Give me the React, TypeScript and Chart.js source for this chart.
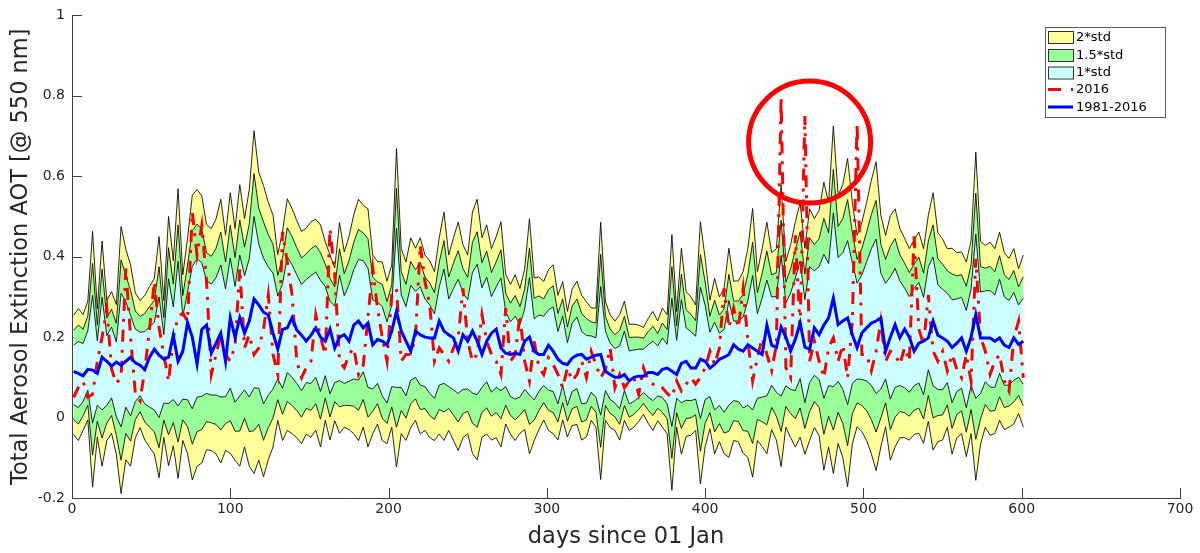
import { useEffect, useRef } from 'react';
import { Chart, registerables } from 'chart.js';

Chart.register(...registerables);

// x categories: day numbers (every 3rd day, starting at day 1)
const DAY_START = 1;
const DAY_STEP = 3;

// 1981-2016 climatological mean AOT (blue line)
const meanAOT = [
  0.115, 0.11, 0.104, 0.12, 0.118, 0.11, 0.15, 0.14, 0.128, 0.138,
  0.13, 0.14, 0.15, 0.136, 0.13, 0.12, 0.15, 0.17, 0.155, 0.145,
  0.15, 0.205, 0.14, 0.165, 0.236, 0.2, 0.133, 0.219, 0.23, 0.16,
  0.185, 0.21, 0.14, 0.248, 0.2, 0.248, 0.21, 0.24, 0.295, 0.28,
  0.262, 0.255, 0.21, 0.17, 0.219, 0.223, 0.248, 0.218, 0.205, 0.19,
  0.205, 0.223, 0.2, 0.19, 0.22, 0.173, 0.2, 0.206, 0.19, 0.23,
  0.24, 0.223, 0.235, 0.181, 0.194, 0.19, 0.181, 0.215, 0.264, 0.215,
  0.19, 0.165, 0.215, 0.206, 0.2, 0.198, 0.198, 0.24, 0.215, 0.206,
  0.198, 0.165, 0.206, 0.19, 0.215, 0.19, 0.157, 0.19, 0.21, 0.22,
  0.173, 0.16, 0.157, 0.16, 0.157, 0.19, 0.2, 0.165, 0.157, 0.157,
  0.18, 0.165, 0.145, 0.135, 0.132, 0.148, 0.155, 0.157, 0.145, 0.15,
  0.155, 0.157, 0.115, 0.107, 0.1, 0.1, 0.107, 0.091, 0.1, 0.103,
  0.103, 0.112, 0.112, 0.107, 0.12, 0.123, 0.115, 0.107, 0.135, 0.14,
  0.123, 0.123, 0.145, 0.14, 0.123, 0.132, 0.145, 0.15, 0.157, 0.181,
  0.17, 0.165, 0.181, 0.173, 0.165, 0.157, 0.23, 0.18, 0.174, 0.225,
  0.2, 0.165, 0.195, 0.235, 0.175, 0.17, 0.223, 0.206, 0.23, 0.248,
  0.297, 0.231, 0.24, 0.248, 0.206, 0.174, 0.21, 0.223, 0.235, 0.24,
  0.248, 0.165, 0.2, 0.231, 0.198, 0.22, 0.2, 0.165, 0.185, 0.19,
  0.198, 0.24, 0.205, 0.198, 0.19, 0.174, 0.185, 0.198, 0.165, 0.2,
  0.256, 0.198, 0.198, 0.198, 0.19, 0.198, 0.18, 0.174, 0.198, 0.182,
  0.19,
];

// centre of the std envelopes
const bandCenter = [
  0.106, 0.107, 0.112, 0.142, 0.145, 0.111, 0.159, 0.117, 0.137, 0.095,
  0.143, 0.157, 0.129, 0.13, 0.133, 0.124, 0.126, 0.128, 0.15, 0.121,
  0.19, 0.16, 0.209, 0.149, 0.178, 0.199, 0.223, 0.219, 0.2, 0.194,
  0.202, 0.215, 0.186, 0.235, 0.182, 0.229, 0.211, 0.223, 0.287, 0.252,
  0.215, 0.215, 0.215, 0.199, 0.203, 0.256, 0.24, 0.22, 0.199, 0.215,
  0.219, 0.231, 0.203, 0.215, 0.174, 0.182, 0.223, 0.194, 0.21, 0.232,
  0.243, 0.252, 0.223, 0.182, 0.186, 0.165, 0.137, 0.178, 0.273, 0.19,
  0.165, 0.211, 0.207, 0.203, 0.186, 0.17, 0.153, 0.203, 0.227, 0.186,
  0.195, 0.202, 0.19, 0.182, 0.211, 0.219, 0.199, 0.219, 0.182, 0.2,
  0.207, 0.17, 0.145, 0.149, 0.141, 0.17, 0.202, 0.145, 0.16, 0.166,
  0.168, 0.17, 0.124, 0.166, 0.108, 0.15, 0.161, 0.124, 0.12, 0.133,
  0.124, 0.166, 0.141, 0.115, 0.104, 0.1, 0.141, 0.1, 0.104, 0.11,
  0.116, 0.116, 0.116, 0.116, 0.124, 0.108, 0.137, 0.12, 0.165, 0.133,
  0.128, 0.124, 0.161, 0.162, 0.132, 0.128, 0.12, 0.116, 0.161, 0.141,
  0.14, 0.137, 0.161, 0.186, 0.153, 0.174, 0.198, 0.19, 0.182, 0.228,
  0.182, 0.19, 0.207, 0.243, 0.165, 0.231, 0.235, 0.235, 0.227, 0.231,
  0.293, 0.244, 0.24, 0.236, 0.235, 0.215, 0.225, 0.239, 0.25, 0.252,
  0.215, 0.215, 0.198, 0.223, 0.21, 0.198, 0.182, 0.2, 0.211, 0.178,
  0.247, 0.239, 0.2, 0.194, 0.198, 0.165, 0.18, 0.186, 0.145, 0.2,
  0.252, 0.186, 0.202, 0.196, 0.19, 0.227, 0.19, 0.186, 0.202, 0.19,
  0.19,
];

// 1981-2016 standard deviation
const stdAOT = [
  0.074, 0.082, 0.072, 0.074, 0.159, 0.08, 0.14, 0.087, 0.088, 0.093,
  0.166, 0.131, 0.125, 0.09, 0.079, 0.09, 0.1, 0.109, 0.15, 0.085,
  0.155, 0.115, 0.18, 0.103, 0.134, 0.177, 0.172, 0.166, 0.14, 0.138,
  0.146, 0.164, 0.134, 0.162, 0.144, 0.175, 0.142, 0.172, 0.213, 0.179,
  0.181, 0.16, 0.144, 0.103, 0.13, 0.144, 0.14, 0.135, 0.132, 0.128,
  0.134, 0.131, 0.138, 0.111, 0.115, 0.095, 0.131, 0.109, 0.12, 0.136,
  0.15, 0.138, 0.148, 0.111, 0.101, 0.111, 0.101, 0.101, 0.198, 0.115,
  0.111, 0.118, 0.107, 0.122, 0.109, 0.11, 0.105, 0.122, 0.142, 0.109,
  0.126, 0.142, 0.12, 0.111, 0.15, 0.162, 0.124, 0.13, 0.119, 0.125,
  0.14, 0.093, 0.093, 0.103, 0.09, 0.1, 0.146, 0.101, 0.095, 0.086,
  0.1, 0.105, 0.09, 0.086, 0.078, 0.085, 0.089, 0.09, 0.084, 0.07,
  0.074, 0.16, 0.074, 0.07, 0.068, 0.078, 0.074, 0.066, 0.064, 0.06,
  0.054, 0.065, 0.074, 0.062, 0.074, 0.074, 0.159, 0.072, 0.128, 0.09,
  0.086, 0.078, 0.163, 0.117, 0.08, 0.109, 0.09, 0.103, 0.13, 0.099,
  0.1, 0.113, 0.13, 0.167, 0.105, 0.123, 0.144, 0.11, 0.119, 0.175,
  0.103, 0.12, 0.14, 0.146, 0.128, 0.144, 0.13, 0.14, 0.179, 0.152,
  0.216, 0.154, 0.17, 0.204, 0.15, 0.119, 0.13, 0.148, 0.17, 0.192,
  0.144, 0.119, 0.152, 0.148, 0.13, 0.124, 0.119, 0.121, 0.125, 0.121,
  0.128, 0.16, 0.13, 0.125, 0.111, 0.128, 0.115, 0.113, 0.121, 0.12,
  0.204, 0.126, 0.113, 0.12, 0.115, 0.117, 0.11, 0.105, 0.109, 0.09,
  0.107,
];

// 2016 AOT (red dash-dot line)
const aot2016 = [
  0.05, 0.075, 0.09, 0.05, 0.058, 0.14, 0.2, 0.272, 0.12, 0.085,
  0.1, 0.371, 0.2, 0.06, 0.042, 0.12, 0.22, 0.338, 0.223, 0.157,
  0.09, 0.198, 0.25, 0.26, 0.239, 0.511, 0.404, 0.478, 0.338, 0.107,
  0.157, 0.206, 0.157, 0.14, 0.18, 0.371, 0.173, 0.206, 0.157, 0.173,
  0.22, 0.305, 0.157, 0.107, 0.462, 0.387, 0.305, 0.14, 0.099, 0.124,
  0.14, 0.256, 0.2, 0.157, 0.47, 0.355, 0.14, 0.124, 0.157, 0.173,
  0.107, 0.13, 0.25, 0.371, 0.272, 0.2, 0.14, 0.305, 0.321, 0.14,
  0.157, 0.157, 0.2, 0.429, 0.338, 0.28, 0.14, 0.173, 0.157, 0.14,
  0.173, 0.2, 0.321, 0.19, 0.14, 0.157, 0.256, 0.19, 0.157, 0.14,
  0.107, 0.272, 0.14, 0.157, 0.256, 0.14, 0.091, 0.19, 0.124, 0.107,
  0.149, 0.132, 0.107, 0.074, 0.124, 0.091, 0.107, 0.14, 0.099, 0.165,
  0.132, 0.099, 0.12, 0.173, 0.074, 0.107, 0.074, 0.091, 0.099, 0.058,
  0.124, 0.091, 0.083, 0.083, 0.074, 0.06, 0.05, 0.091, 0.066, 0.083,
  0.099, 0.083, 0.1, 0.124, 0.165, 0.132, 0.173, 0.321, 0.223, 0.272,
  0.223, 0.321, 0.19, 0.091, 0.15, 0.198, 0.157, 0.116, 0.181, 0.799,
  0.124, 0.099, 0.453, 0.223, 0.75, 0.14, 0.19, 0.14, 0.099, 0.174,
  0.198, 0.14, 0.181, 0.099, 0.24, 0.733, 0.157, 0.157, 0.116, 0.165,
  0.24, 0.14, 0.165, 0.157, 0.132, 0.174, 0.14, 0.453, 0.22, 0.181,
  0.305, 0.165, 0.14, 0.165, 0.116, 0.157, 0.12, 0.099, 0.157, 0.091,
  0.395, 0.2, 0.165, 0.107, 0.14, 0.157, 0.091, 0.066, 0.198, 0.24,
  0.099,
];

const days = meanAOT.map((_, i) => DAY_START + DAY_STEP * i);

const xTickValues = [0, 100, 200, 300, 400, 500, 600, 700];
const yTickValues = [-0.2, 0, 0.2, 0.4, 0.6, 0.8, 1];
const bandMultipliers = [2, 1.5, 1];
const legendLabels = ['2*std', '1.5*std', '1*std', '2016', '1981-2016'];
const xTitle = 'days since 01 Jan';
const yTitle = 'Total Aerosol Extinction AOT [@ 550 nm]';
// highlighted region (annotation circle) in data units
const highlightDay = 466;
const highlightAOT = 0.685;

const FONT = '"DejaVu Sans", "Liberation Sans", sans-serif';
const YELLOW = '#ffff99';
const GREEN = '#99ff99';
const CYAN = '#ccffff';
const EDGE = 'rgba(0,0,0,0.85)';
const AXIS = '#404040';
const TEXT = '#262626';
const RED_DASH = [12, 8, 3, 8];

const decor = {
  id: 'matlabDecor',
  beforeDatasetsDraw(chart: any) {
    const { ctx, chartArea, scales } = chart;
    ctx.save();
    ctx.strokeStyle = AXIS;
    ctx.lineWidth = 1;
    ctx.beginPath();
    xTickValues.forEach((v) => {
      const px = Math.round(scales.x.getPixelForValue(v)) + 0.5;
      ctx.moveTo(px, chartArea.bottom);
      ctx.lineTo(px, chartArea.bottom - 10);
    });
    yTickValues.forEach((v) => {
      const py = Math.round(scales.y.getPixelForValue(v)) + 0.5;
      ctx.moveTo(chartArea.left, py);
      ctx.lineTo(chartArea.left + 10, py);
    });
    ctx.stroke();
    ctx.restore();
  },
  afterDatasetsDraw(chart: any) {
    const { ctx, scales } = chart;
    ctx.save();
    ctx.strokeStyle = '#ff0000';
    ctx.lineWidth = 5;
    ctx.beginPath();
    ctx.arc(scales.x.getPixelForValue(highlightDay), scales.y.getPixelForValue(highlightAOT), 61, 0, Math.PI * 2);
    ctx.stroke();
    ctx.restore();
  },
  afterDraw(chart: any) {
    const { ctx, chartArea } = chart;
    ctx.save();
    ctx.fillStyle = TEXT;
    ctx.font = `22.5px ${FONT}`;
    ctx.textAlign = 'center';
    ctx.textBaseline = 'middle';
    ctx.fillText(xTitle, (chartArea.left + chartArea.right) / 2, 537);
    ctx.save();
    ctx.translate(21, (chartArea.top + chartArea.bottom) / 2);
    ctx.rotate(-Math.PI / 2);
    ctx.fillText(yTitle, 0, 0);
    ctx.restore();

    const bx = 1045, by = 27, bw = 120, bh = 90;
    ctx.fillStyle = '#ffffff';
    ctx.fillRect(bx, by, bw, bh);
    ctx.strokeStyle = '#5a5a5a';
    ctx.lineWidth = 1;
    ctx.strokeRect(bx + 0.5, by + 0.5, bw, bh);
    const rows = [37, 55, 72.5, 89.5, 107];
    const fills = [YELLOW, GREEN, CYAN];
    for (let i = 0; i < 3; i++) {
      ctx.fillStyle = fills[i];
      ctx.fillRect(1048, rows[i] - 6, 25, 12);
      ctx.strokeStyle = '#333333';
      ctx.lineWidth = 1;
      ctx.strokeRect(1048.5, rows[i] - 5.5, 25, 12);
    }
    ctx.lineWidth = 3;
    ctx.lineCap = 'butt';
    ctx.strokeStyle = '#ff0000';
    ctx.setLineDash([13, 10, 2, 10]);
    ctx.beginPath();
    ctx.moveTo(1048, rows[3]);
    ctx.lineTo(1073, rows[3]);
    ctx.stroke();
    ctx.setLineDash([]);
    ctx.strokeStyle = '#0000ff';
    ctx.beginPath();
    ctx.moveTo(1048, rows[4]);
    ctx.lineTo(1073, rows[4]);
    ctx.stroke();
    ctx.fillStyle = '#000000';
    ctx.font = `13px ${FONT}`;
    ctx.textAlign = 'left';
    ctx.textBaseline = 'middle';
    legendLabels.forEach((t, i) => ctx.fillText(t, 1076, rows[i] + 0.5));
    ctx.restore();
  },
};

export default function App() {
  const ref = useRef<HTMLCanvasElement | null>(null);
  useEffect(() => {
    document.body.style.margin = '0';
    const canvas = ref.current;
    if (!canvas) return;
    const band = (k: number, sign: number) =>
      days.map((d, i) => ({ x: d, y: bandCenter[i] + sign * k * stdAOT[i] }));
    const bandColors = [YELLOW, GREEN, CYAN];
    const bandSets: any[] = [];
    bandMultipliers.forEach((k, j) => {
      bandSets.push({
        label: `${k}*std`,
        data: band(k, 1),
        fill: '+1',
        backgroundColor: bandColors[j],
        borderColor: EDGE,
        borderWidth: 1,
        order: 10 - 2 * j,
      });
      bandSets.push({
        label: `${k}*std low`,
        data: band(k, -1),
        fill: false,
        borderColor: EDGE,
        borderWidth: 1,
        order: 9 - 2 * j,
      });
    });
    const chart = new Chart(canvas, {
      type: 'line',
      data: {
        datasets: [
          ...bandSets,
          {
            label: '2016',
            data: days.map((d, i) => ({ x: d, y: aot2016[i] })),
            fill: false,
            borderColor: '#ff0000',
            borderWidth: 3,
            borderDash: RED_DASH,
            borderCapStyle: 'butt',
            order: 2,
          },
          {
            label: '1981-2016',
            data: days.map((d, i) => ({ x: d, y: meanAOT[i] })),
            fill: false,
            borderColor: '#0000ff',
            borderWidth: 3,
            order: 1,
          },
        ] as any,
      },
      options: {
        animation: false,
        responsive: false,
        devicePixelRatio: 1,
        events: [],
        layout: { padding: { left: 0, right: 20, top: 12, bottom: 0 } },
        elements: { point: { radius: 0, hoverRadius: 0 }, line: { tension: 0 } },
        plugins: { legend: { display: false }, tooltip: { enabled: false } },
        scales: {
          x: {
            type: 'linear',
            min: 0,
            max: 700,
            ticks: {
              stepSize: 100,
              color: TEXT,
              font: { family: FONT, size: 14 },
              padding: 3,
              maxRotation: 0,
              autoSkip: false,
            },
            grid: { display: false, drawTicks: false },
            border: { display: true, color: AXIS, width: 1 },
            afterFit: (s: any) => {
              s.height = 55;
            },
          },
          y: {
            type: 'linear',
            min: -0.2,
            max: 1,
            ticks: {
              stepSize: 0.2,
              color: TEXT,
              font: { family: FONT, size: 14 },
              padding: 7,
              callback: (v: any) => {
                const r = Math.round(Number(v) * 10) / 10;
                return r === 0 ? '0' : String(r);
              },
            },
            grid: { display: false, drawTicks: false },
            border: { display: true, color: AXIS, width: 1 },
            afterFit: (s: any) => {
              s.width = 72;
            },
          },
        },
      } as any,
      plugins: [decor],
    });
    return () => chart.destroy();
  }, []);
  return (
    <div style={{ width: 1200, height: 553 }}>
      <canvas ref={ref} width={1200} height={553} style={{ display: 'block' }} />
    </div>
  );
}
